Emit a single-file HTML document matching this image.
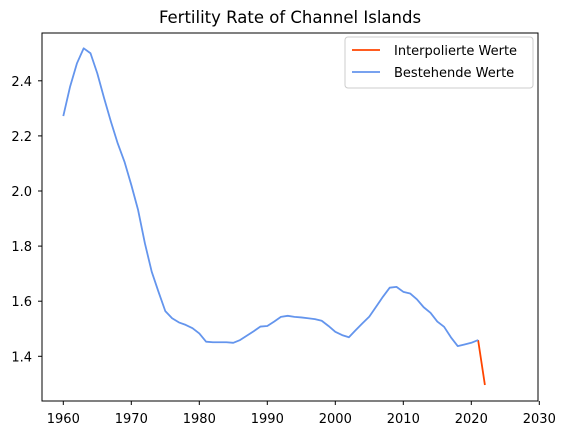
<!DOCTYPE html>
<html><head><meta charset="utf-8"><style>
body{margin:0;background:#fff}
svg text{font-family:"DejaVu Sans","Liberation Sans",sans-serif;fill:#000}
</style></head><body>
<svg id="chart" width="565" height="435" viewBox="0 0 565 435">
<rect x="0" y="0" width="565" height="435" fill="#fff"/>
<text x="290" y="23" font-size="16.5" text-anchor="middle">Fertility Rate of Channel Islands</text>
<g id="xticks"></g><g id="yticks"></g><g id="lines"></g>
<rect x="42" y="33" width="496" height="368" fill="none" stroke="#000" stroke-width="1"/>
<g>
<rect x="345" y="37" width="188" height="51" rx="3" fill="#fff" stroke="#ccc"/>
<line x1="352" y1="50" x2="380" y2="50" stroke="#ff4500" stroke-width="1.8"/>
<text x="394" y="55" font-size="13">Interpolierte Werte</text>
<line x1="352" y1="72" x2="380" y2="72" stroke="#6495ed" stroke-width="1.8"/>
<text x="394" y="77" font-size="13">Bestehende Werte</text>
</g>
</svg>
<script>
const years = [];
for (let y = 1960; y <= 2022; y++) years.push(y);
const values = [2.272,2.379,2.463,2.518,2.50,2.427,2.337,2.252,2.173,2.106,2.022,1.931,1.81,1.707,1.634,1.564,1.538,1.523,1.514,1.502,1.483,1.453,1.451,1.451,1.451,1.449,1.459,1.475,1.491,1.508,1.510,1.526,1.543,1.547,1.543,1.541,1.538,1.535,1.529,1.51,1.489,1.477,1.469,1.495,1.52,1.544,1.58,1.616,1.649,1.652,1.634,1.628,1.607,1.578,1.558,1.526,1.507,1.469,1.437,1.443,1.449,1.459,1.296];
const interpStartYear = 2021;
const xTicks = [1960,1970,1980,1990,2000,2010,2020,2030];
const yTicks = [1.4,1.6,1.8,2.0,2.2,2.4];
const yTickLabels = ["1.4","1.6","1.8","2.0","2.2","2.4"];

const NS = "http://www.w3.org/2000/svg";
const xs = y => 63.3 + (y - 1960) * 6.8;
const ys = v => 356.3 - (v - 1.4) * 275.5;
function mk(tag, attrs, parent){const e=document.createElementNS(NS,tag);for(const k in attrs)e.setAttribute(k,attrs[k]);parent.appendChild(e);return e;}
const gx=document.getElementById('xticks'), gy=document.getElementById('yticks'), gl=document.getElementById('lines');
xTicks.forEach(t=>{
  const l=mk('line',{x1:xs(t),x2:xs(t),y1:401,y2:405,stroke:'#000'},gx);
  
  
  const tx=mk('text',{x:xs(t),y:423,'font-size':13,'text-anchor':'middle'},gx);
  tx.textContent=t;
  
  
});
yTicks.forEach((t,i)=>{
  const l=mk('line',{x1:38,x2:42,y1:ys(t),y2:ys(t),stroke:'#000'},gy);
  
  
  const tx=mk('text',{x:32,y:ys(t)+5,'font-size':13,'text-anchor':'end'},gy);
  tx.textContent=yTickLabels[i];
  
  
});
const pts=(a,b)=>years.slice(a,b).map((y,i)=>xs(y)+','+ys(values[a+i])).join(' ');
const si=years.indexOf(interpStartYear);
const interp=mk('polyline',{points:pts(si,years.length),fill:'none',stroke:'#ff4500','stroke-width':1.8},gl);


const exist=mk('polyline',{points:pts(0,si+1),fill:'none',stroke:'#6495ed','stroke-width':1.8,'stroke-linejoin':'round'},gl);


</script>
</body></html>
